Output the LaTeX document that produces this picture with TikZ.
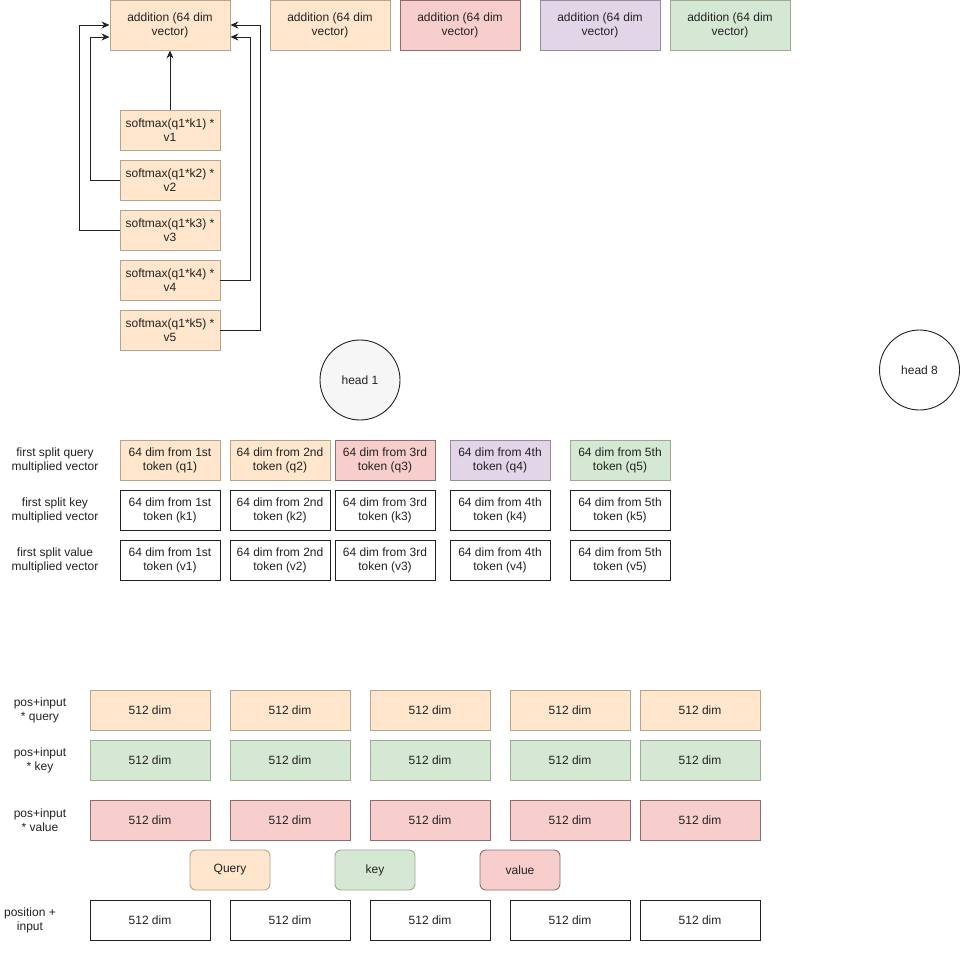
\documentclass[tikz,border=0pt]{standalone}
\usepackage{fontspec}
\setmainfont{Liberation Sans}
\usetikzlibrary{arrows.meta}

\definecolor{ink}{RGB}{34,34,34}
\definecolor{orangeFill}{HTML}{FFE6CC}
\definecolor{orangeLine}{RGB}{181,165,140}
\definecolor{redFill}{HTML}{F8CECC}
\definecolor{redLine}{RGB}{140,110,110}
\definecolor{purpleFill}{HTML}{E1D5E7}
\definecolor{purpleLine}{RGB}{150,140,155}
\definecolor{greenFill}{HTML}{D5E8D4}
\definecolor{greenLine}{RGB}{160,168,150}
\definecolor{headFill}{HTML}{F6F6F6}

\tikzset{
  txt/.style={text=ink, align=center, inner sep=0pt, font=\fontsize{12}{14}\selectfont},
  box/.style={txt, draw=ink, line width=0.9pt, minimum width=100pt, minimum height=40pt},
  wideBox/.style={box, minimum width=120pt},
  addBox/.style={box, minimum width=120pt, minimum height=50pt},
  orangeBox/.style={fill=orangeFill, draw=orangeLine},
  redBox/.style={fill=redFill, draw=redLine},
  purpleBox/.style={fill=purpleFill, draw=purpleLine},
  greenBox/.style={fill=greenFill, draw=greenLine},
  pill/.style={box, minimum width=80pt, rounded corners=6pt},
  headCircle/.style={txt, circle, draw=ink, line width=0.9pt, minimum size=80pt},
  arr/.style={-{Stealth[length=8pt,width=7pt]}, line width=0.9pt, draw=ink}
}

\begin{document}
\begin{tikzpicture}[x=1pt,y=-1pt]
  \useasboundingbox (0,0) rectangle (960,960);

  \node[addBox,orangeBox] (add1) at (170,25) {addition (64 dim\\vector)};
  \node[addBox,orangeBox] (add2) at (330,25) {addition (64 dim\\vector)};
  \node[addBox,redBox] (add3) at (460,25) {addition (64 dim\\vector)};
  \node[addBox,purpleBox] (add4) at (600,25) {addition (64 dim\\vector)};
  \node[addBox,greenBox] (add5) at (730,25) {addition (64 dim\\vector)};

  \node[box,orangeBox] (soft1) at (170,130) {softmax(q1*k1) *\\v1};
  \node[box,orangeBox] (soft2) at (170,180) {softmax(q1*k2) *\\v2};
  \node[box,orangeBox] (soft3) at (170,230) {softmax(q1*k3) *\\v3};
  \node[box,orangeBox] (soft4) at (170,280) {softmax(q1*k4) *\\v4};
  \node[box,orangeBox] (soft5) at (170,330) {softmax(q1*k5) *\\v5};

  \draw[arr] (soft1.north) -- (add1.south);
  \draw[arr] (soft2.west) -- ++(-29pt,0) |- ([yshift=-12pt]add1.west);
  \draw[arr] (soft3.west) -- ++(-40pt,0) |- (add1.west);
  \draw[arr] (soft4.east) -- ++(30pt,0) |- ([yshift=-12pt]add1.east);
  \draw[arr] (soft5.east) -- ++(40pt,0) |- (add1.east);

  \node[headCircle,fill=headFill] (head1) at (360,380) {head 1};
  \node[headCircle] (head8) at (919.5,370) {head 8};

  \node[txt] (queryLabel) at (55,460) {first split query\\multiplied vector};
  \node[txt] (keyLabel) at (55,510) {first split key\\multiplied vector};
  \node[txt] (valueLabel) at (55,560) {first split value\\multiplied vector};

  \node[box,orangeBox] (q1) at (170,460) {64 dim from 1st\\token (q1)};
  \node[box,orangeBox] (q2) at (280,460) {64 dim from 2nd\\token (q2)};
  \node[box,redBox] (q3) at (385,460) {64 dim from 3rd\\token (q3)};
  \node[box,purpleBox] (q4) at (500,460) {64 dim from 4th\\token (q4)};
  \node[box,greenBox] (q5) at (620,460) {64 dim from 5th\\token (q5)};

  \node[box] (k1) at (170,510) {64 dim from 1st\\token (k1)};
  \node[box] (k2) at (280,510) {64 dim from 2nd\\token (k2)};
  \node[box] (k3) at (385,510) {64 dim from 3rd\\token (k3)};
  \node[box] (k4) at (500,510) {64 dim from 4th\\token (k4)};
  \node[box] (k5) at (620,510) {64 dim from 5th\\token (k5)};

  \node[box] (v1) at (170,560) {64 dim from 1st\\token (v1)};
  \node[box] (v2) at (280,560) {64 dim from 2nd\\token (v2)};
  \node[box] (v3) at (385,560) {64 dim from 3rd\\token (v3)};
  \node[box] (v4) at (500,560) {64 dim from 4th\\token (v4)};
  \node[box] (v5) at (620,560) {64 dim from 5th\\token (v5)};

  \node[txt] (posQueryLabel) at (40,710) {pos+input\\* query};
  \node[txt] (posKeyLabel) at (40,760) {pos+input\\* key};
  \node[txt] (posValueLabel) at (40,820) {pos+input\\* value};
  \node[txt] (posInputLabel) at (30,920) {position +\\input};

  \node[wideBox,orangeBox] (queryDim1) at (150,710) {512 dim};
  \node[wideBox,orangeBox] (queryDim2) at (290,710) {512 dim};
  \node[wideBox,orangeBox] (queryDim3) at (430,710) {512 dim};
  \node[wideBox,orangeBox] (queryDim4) at (570,710) {512 dim};
  \node[wideBox,orangeBox] (queryDim5) at (700,710) {512 dim};

  \node[wideBox,greenBox] (keyDim1) at (150,760) {512 dim};
  \node[wideBox,greenBox] (keyDim2) at (290,760) {512 dim};
  \node[wideBox,greenBox] (keyDim3) at (430,760) {512 dim};
  \node[wideBox,greenBox] (keyDim4) at (570,760) {512 dim};
  \node[wideBox,greenBox] (keyDim5) at (700,760) {512 dim};

  \node[wideBox,redBox] (valueDim1) at (150,820) {512 dim};
  \node[wideBox,redBox] (valueDim2) at (290,820) {512 dim};
  \node[wideBox,redBox] (valueDim3) at (430,820) {512 dim};
  \node[wideBox,redBox] (valueDim4) at (570,820) {512 dim};
  \node[wideBox,redBox] (valueDim5) at (700,820) {512 dim};

  \node[pill,orangeBox] (queryPill) at (230,870) {Query};
  \node[pill,greenBox] (keyPill) at (375,870) {key};
  \node[pill,redBox] (valuePill) at (520,870) {value};

  \node[wideBox] (inputDim1) at (150,920) {512 dim};
  \node[wideBox] (inputDim2) at (290,920) {512 dim};
  \node[wideBox] (inputDim3) at (430,920) {512 dim};
  \node[wideBox] (inputDim4) at (570,920) {512 dim};
  \node[wideBox] (inputDim5) at (700,920) {512 dim};

\end{tikzpicture}
\end{document}
